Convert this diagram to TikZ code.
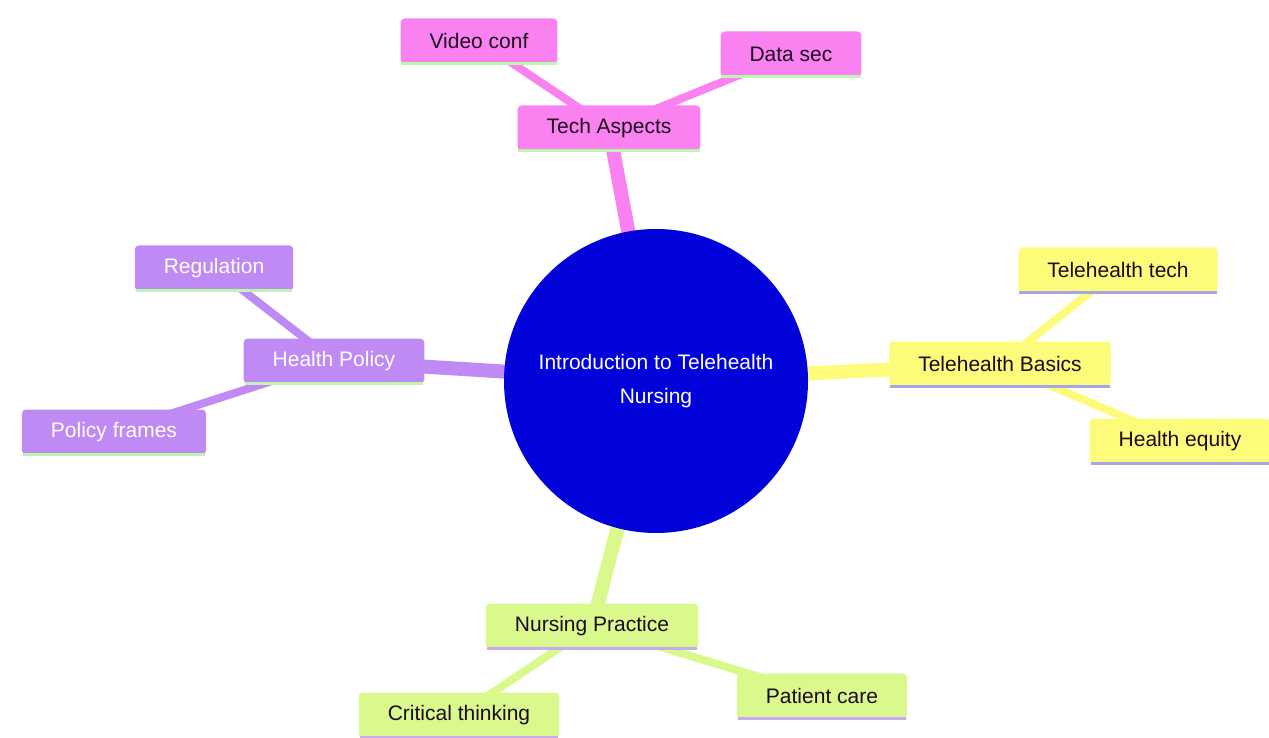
\documentclass[tikz,border=0pt]{standalone}
\usepackage{fontspec}
\setmainfont{Liberation Sans}
\usetikzlibrary{backgrounds}
\definecolor{pinkc}{RGB}{249,130,240}
\definecolor{purc}{RGB}{192,138,245}
\definecolor{yelc}{RGB}{252,252,122}
\definecolor{grnc}{RGB}{217,249,140}
\definecolor{bluc}{RGB}{2,2,218}
\definecolor{lgrn}{RGB}{190,245,175}
\definecolor{lav}{RGB}{165,165,232}
\definecolor{lavg}{RGB}{200,170,240}
\definecolor{txt}{RGB}{30,10,30}
\begin{document}
\begin{tikzpicture}[x=1pt,y=-1pt,
  box/.style={rectangle, rounded corners=4pt, minimum height=45pt, inner xsep=29pt,
    font=\fontsize{21}{25}\selectfont, text=txt},
  pinkbox/.style={box, fill=pinkc},
  purbox/.style={box, fill=purc, text=white},
  yelbox/.style={box, fill=yelc},
  grnbox/.style={box, fill=grnc},
  trunk/.style={line width=14pt},
  twig/.style={line width=8pt}]
\useasboundingbox (0,0) rectangle (1269,738);
% center
\node[circle, fill=bluc, minimum size=304pt, text=white, align=center,
  font=\fontsize{21}{34}\selectfont] (c) at (656,381) {Introduction to Telehealth\\Nursing};
% pink section
\node[pinkbox] (tech) at (609,128) {Tech Aspects};
\node[pinkbox] (video) at (479,41) {Video conf};
\node[pinkbox] (data) at (791,54) {Data sec};
% yellow section
\node[yelbox] (basics) at (1000,364) {Telehealth Basics};
\node[yelbox] (ttech) at (1118,270) {Telehealth tech};
\node[yelbox] (equity) at (1180,441) {Health equity};
% purple section
\node[purbox] (policy) at (334,361) {Health Policy};
\node[purbox] (reg) at (214,268) {Regulation};
\node[purbox] (frames) at (114,432) {Policy frames};
% green section
\node[grnbox] (nurs) at (592,626) {Nursing Practice};
\node[grnbox] (crit) at (459,715) {Critical thinking};
\node[grnbox] (care) at (822,696) {Patient care};
% bottom lines
\foreach \n/\col in {tech/lgrn,video/lgrn,data/lgrn,policy/lgrn,reg/lgrn,frames/lgrn,
  basics/lav,ttech/lav,equity/lav,nurs/lavg,crit/lavg,care/lavg}
  \draw[\col, line width=2.5pt] ([xshift=1pt]\n.south west) -- ([xshift=-1pt]\n.south east);
\begin{scope}[on background layer]
\draw[trunk, pinkc] (c.center) -- (tech.center);
\draw[twig, pinkc] (tech.center) -- (video.center);
\draw[twig, pinkc] (tech.center) -- (data.center);
\draw[trunk, yelc] (c.center) -- (basics.center);
\draw[twig, yelc] (basics.center) -- (ttech.center);
\draw[twig, yelc] (basics.center) -- (equity.center);
\draw[trunk, purc] (c.center) -- (policy.center);
\draw[twig, purc] (policy.center) -- (reg.center);
\draw[twig, purc] (policy.center) -- (frames.center);
\draw[trunk, grnc] (c.center) -- (nurs.center);
\draw[twig, grnc] (nurs.center) -- (crit.center);
\draw[twig, grnc] (nurs.center) -- (care.center);
\end{scope}
\end{tikzpicture}
\end{document}
